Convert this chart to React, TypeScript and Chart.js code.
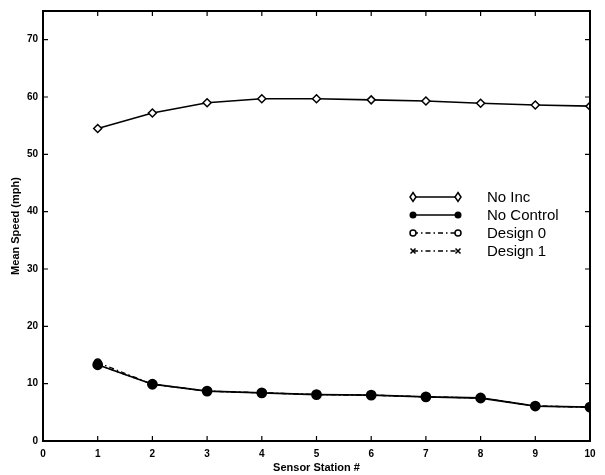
import React, { useEffect, useRef } from "react";
import { Chart, registerables } from "chart.js";

Chart.register(...registerables);

const stations = [1, 2, 3, 4, 5, 6, 7, 8, 9, 10];
const noInc = [54.5, 57.2, 59.0, 59.7, 59.7, 59.5, 59.3, 58.9, 58.6, 58.4];
const noControl = [13.3, 9.9, 8.7, 8.4, 8.1, 8.0, 7.7, 7.5, 6.1, 5.9];
const design0 = [13.7, 9.9, 8.7, 8.4, 8.1, 8.0, 7.7, 7.5, 6.1, 5.9];
const design1 = [13.3, 9.9, 8.7, 8.4, 8.1, 8.0, 7.7, 7.5, 6.1, 5.9];
const xTicks = [0, 1, 2, 3, 4, 5, 6, 7, 8, 9, 10];
const yTicks = [0, 10, 20, 30, 40, 50, 60, 70];
const seriesNames = ["No Inc", "No Control", "Design 0", "Design 1"];

const toPts = (vals: number[]) => vals.map((v, i) => ({ x: stations[i], y: v }));

const framePlugin = {
  id: "frame",
  afterDraw(chart: any) {
    const { ctx, chartArea: a, scales } = chart;
    ctx.save();
    ctx.strokeStyle = "#000";
    ctx.lineWidth = 2;
    ctx.strokeRect(a.left, a.top, a.right - a.left, a.bottom - a.top);
    ctx.lineWidth = 1.2;
    const tl = 5;
    xTicks.forEach((v) => {
      const px = scales.x.getPixelForValue(v);
      ctx.beginPath();
      ctx.moveTo(px, a.bottom);
      ctx.lineTo(px, a.bottom - tl);
      ctx.moveTo(px, a.top);
      ctx.lineTo(px, a.top + tl);
      ctx.stroke();
    });
    yTicks.forEach((v) => {
      const py = scales.y.getPixelForValue(v);
      ctx.beginPath();
      ctx.moveTo(a.left, py);
      ctx.lineTo(a.left + tl, py);
      ctx.moveTo(a.right, py);
      ctx.lineTo(a.right - tl, py);
      ctx.stroke();
    });
    // legend
    const lx0 = 413, lx1 = 458, tx = 487;
    const rows = [197, 215, 233, 251];
    ctx.font = "15px 'Liberation Sans', Arial, sans-serif";
    ctx.textBaseline = "middle";
    ctx.fillStyle = "#000";
    rows.forEach((y, i) => {
      ctx.lineWidth = 1.5;
      ctx.strokeStyle = "#000";
      if (i >= 2) ctx.setLineDash([5, 3, 1.5, 3]);
      else ctx.setLineDash([]);
      ctx.beginPath();
      ctx.moveTo(lx0, y);
      ctx.lineTo(lx1, y);
      ctx.stroke();
      ctx.setLineDash([]);
      [lx0, lx1].forEach((mx) => {
        ctx.beginPath();
        if (i === 0) {
          ctx.moveTo(mx, y - 4.5);
          ctx.lineTo(mx + 3, y);
          ctx.lineTo(mx, y + 4.5);
          ctx.lineTo(mx - 3, y);
          ctx.closePath();
          ctx.fillStyle = "#fff";
          ctx.fill();
          ctx.stroke();
        } else if (i === 1) {
          ctx.arc(mx, y, 3.5, 0, Math.PI * 2);
          ctx.fillStyle = "#000";
          ctx.fill();
        } else if (i === 2) {
          ctx.arc(mx, y, 3, 0, Math.PI * 2);
          ctx.fillStyle = "#fff";
          ctx.fill();
          ctx.stroke();
        } else {
          ctx.moveTo(mx - 2.5, y - 2.5);
          ctx.lineTo(mx + 2.5, y + 2.5);
          ctx.moveTo(mx + 2.5, y - 2.5);
          ctx.lineTo(mx - 2.5, y + 2.5);
          ctx.stroke();
        }
      });
      ctx.fillStyle = "#000";
      ctx.fillText(seriesNames[i], tx, y + 1);
    });
    ctx.restore();
  },
};

export default function App() {
  const ref = useRef<HTMLCanvasElement>(null);
  useEffect(() => {
    if (!ref.current) return;
    const tickFont = { family: "'Liberation Sans', Arial, sans-serif", size: 10, weight: "bold" as const };
    const chart = new Chart(ref.current, {
      type: "line",
      data: {
        datasets: [
          {
            label: seriesNames[0],
            data: toPts(noInc),
            borderColor: "#000",
            borderWidth: 1.6,
            pointStyle: "rectRot",
            pointRadius: 4,
            pointBackgroundColor: "#fff",
            pointBorderColor: "#000",
            pointBorderWidth: 1.5,
          },
          {
            label: seriesNames[1],
            data: toPts(noControl),
            borderColor: "#000",
            borderWidth: 1.8,
            pointStyle: "circle",
            pointRadius: 4.5,
            pointBackgroundColor: "#000",
            pointBorderColor: "#000",
          },
          {
            label: seriesNames[2],
            data: toPts(design0),
            borderColor: "#000",
            borderWidth: 1.2,
            borderDash: [5, 3, 1.5, 3],
            pointStyle: "circle",
            pointRadius: 3.5,
            pointBackgroundColor: "#fff",
            pointBorderColor: "#000",
            pointBorderWidth: 1.5,
          },
          {
            label: seriesNames[3],
            data: toPts(design1),
            borderColor: "#000",
            borderWidth: 1.2,
            borderDash: [5, 3, 1.5, 3],
            pointStyle: "crossRot",
            pointRadius: 3,
            pointBorderColor: "#000",
            pointBorderWidth: 1.2,
          },
        ],
      },
      options: {
        responsive: false,
        animation: false,
        layout: { padding: { left: 0, top: 8, right: 15, bottom: 0 } },
        plugins: { legend: { display: false }, tooltip: { enabled: false } },
        scales: {
          x: {
            type: "linear",
            min: 0,
            max: 10,
            afterBuildTicks: (s: any) => { s.ticks = xTicks.map((v) => ({ value: v })); },
            afterFit: (s: any) => { s.height = 34; },
            grid: { display: false, drawTicks: false },
            border: { display: false },
            ticks: { color: "#000", font: tickFont, padding: 7, maxRotation: 0 },
            title: {
              display: true,
              text: "Sensor Station #",
              color: "#000",
              font: { family: "'Liberation Sans', Arial, sans-serif", size: 11, weight: "bold" },
              padding: { top: 0, bottom: 0 },
            },
          },
          y: {
            type: "linear",
            min: 0,
            max: 75,
            afterBuildTicks: (s: any) => { s.ticks = yTicks.map((v) => ({ value: v })); },
            afterFit: (s: any) => { s.width = 43; },
            grid: { display: false, drawTicks: false },
            border: { display: false },
            ticks: { color: "#000", font: tickFont, padding: 5 },
            title: {
              display: true,
              text: "Mean Speed (mph)",
              color: "#000",
              font: { family: "'Liberation Sans', Arial, sans-serif", size: 11, weight: "bold" },
              padding: { top: 9, bottom: 0 },
            },
          },
        },
      },
      plugins: [framePlugin],
    });
    return () => chart.destroy();
  }, []);
  return (
    <div style={{ position: "fixed", left: 0, top: 0, width: 605, height: 475, background: "#fff" }}>
      <canvas ref={ref} width={605} height={475} />
    </div>
  );
}
